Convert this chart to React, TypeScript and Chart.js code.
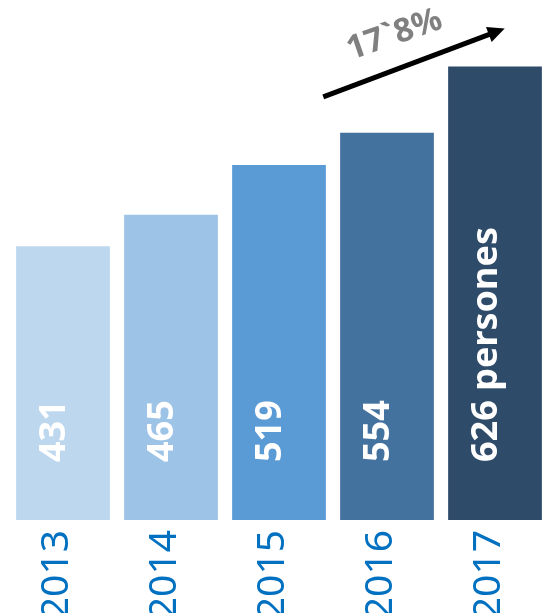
import { useEffect, useRef } from "react";
import { Chart, registerables } from "chart.js";

Chart.register(...registerables);

// ---- data ----
const years = ["2013", "2014", "2015", "2016", "2017"];
const persons = [431, 465, 519, 554, 626];
const unitLabel = "persones";
const barColors = ["#BDD7EE", "#9DC3E6", "#5B9BD5", "#44729F", "#2E4B6A"];
const growthLabel = "17`8%";
// annotation anchors in data coordinates: [category index, value]
const arrowFrom = [2.41, 593];
const arrowTo = [4.09, 667];
const growthLabelAt = [3.07, 660];
const yMin = 134;
const yMax = 698;

const FONT = "'Noto Sans', 'Liberation Sans', sans-serif";

const overlayPlugin = {
  id: "overlay",
  afterDatasetsDraw(chart: any) {
    const ctx: CanvasRenderingContext2D = chart.ctx;
    const meta = chart.getDatasetMeta(0);
    const xs = chart.scales.x;
    const ys = chart.scales.y;
    const bottom = chart.chartArea.bottom;

    // labels inside bars
    ctx.save();
    ctx.fillStyle = "#FFFFFF";
    ctx.font = `bold 36px ${FONT}`;
    ctx.textAlign = "left";
    ctx.textBaseline = "alphabetic";
    meta.data.forEach((bar: any, i: number) => {
      const text =
        i === persons.length - 1 ? `${persons[i]} ${unitLabel}` : String(persons[i]);
      ctx.save();
      ctx.translate(bar.x + 2, bottom - 58);
      ctx.rotate(-Math.PI / 2);
      ctx.fillText(text, 0, 0);
      ctx.restore();
    });
    ctx.restore();

    // growth arrow
    const x1 = xs.getPixelForValue(arrowFrom[0]);
    const y1 = ys.getPixelForValue(arrowFrom[1]);
    const x2 = xs.getPixelForValue(arrowTo[0]);
    const y2 = ys.getPixelForValue(arrowTo[1]);
    const ang = Math.atan2(y2 - y1, x2 - x1);
    const headLen = 17;
    const headHalf = 8;
    ctx.save();
    ctx.strokeStyle = "#000000";
    ctx.fillStyle = "#000000";
    ctx.lineWidth = 5;
    ctx.lineCap = "butt";
    ctx.beginPath();
    ctx.moveTo(x1, y1);
    ctx.lineTo(x2 - Math.cos(ang) * headLen * 0.8, y2 - Math.sin(ang) * headLen * 0.8);
    ctx.stroke();
    ctx.translate(x2, y2);
    ctx.rotate(ang);
    ctx.beginPath();
    ctx.moveTo(0, 0);
    ctx.lineTo(-headLen, -headHalf);
    ctx.lineTo(-headLen, headHalf);
    ctx.closePath();
    ctx.fill();
    ctx.restore();

    // growth label
    const tx = xs.getPixelForValue(growthLabelAt[0]);
    const ty = ys.getPixelForValue(growthLabelAt[1]);
    ctx.save();
    ctx.translate(tx, ty);
    ctx.rotate((-19 * Math.PI) / 180);
    ctx.fillStyle = "#808080";
    ctx.font = `bold 33px ${FONT}`;
    ctx.textAlign = "center";
    ctx.textBaseline = "middle";
    ctx.fillText(growthLabel, 0, 0);
    ctx.restore();
  },
};

export default function App() {
  const ref = useRef<HTMLCanvasElement | null>(null);

  useEffect(() => {
    if (!ref.current) return;
    const chart = new Chart(ref.current, {
      type: "bar",
      data: {
        labels: years,
        datasets: [
          {
            data: persons,
            backgroundColor: barColors,
            borderWidth: 0,
            categoryPercentage: 1,
            barPercentage: 0.868,
          },
        ],
      },
      options: {
        responsive: false,
        animation: false,
        events: [],
        layout: { padding: { left: 9, right: 2, top: 0, bottom: 0 } },
        plugins: {
          legend: { display: false },
          tooltip: { enabled: false },
        },
        scales: {
          x: {
            grid: { display: false, drawTicks: false },
            border: { display: false },
            afterFit: (scale: any) => {
              scale.height = 93;
            },
            ticks: {
              autoSkip: false,
              minRotation: 90,
              maxRotation: 90,
              padding: 10,
              labelOffset: -6,
              color: "#0070C0",
              font: { family: FONT, size: 39 },
            },
          },
          y: {
            display: false,
            min: yMin,
            max: yMax,
          },
        },
      },
      plugins: [overlayPlugin],
    });
    return () => chart.destroy();
  }, []);

  return (
    <div
      style={{
        position: "fixed",
        left: 0,
        top: 0,
        width: 542,
        height: 613,
        overflow: "hidden",
        background: "#ffffff",
      }}
    >
      <canvas
        ref={ref}
        width={552}
        height={613}
        style={{ display: "block", width: 552, height: 613 }}
      />
    </div>
  );
}
